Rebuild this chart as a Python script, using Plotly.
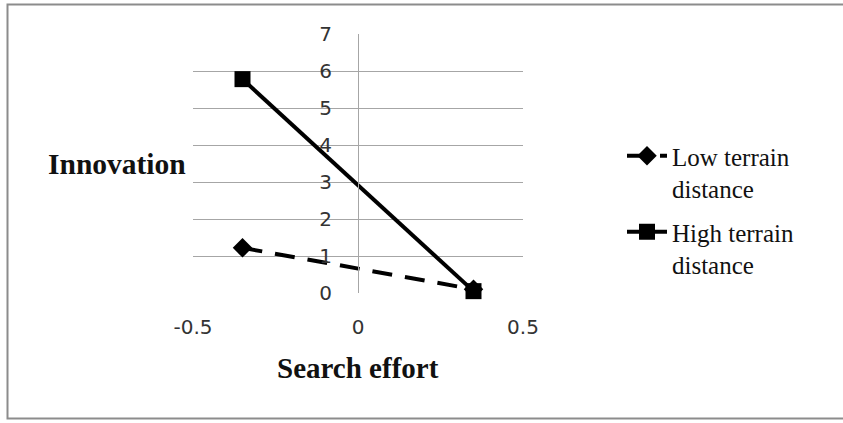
import plotly.graph_objects as go

# Data
x_vals = [-0.35, 0.35]
low_terrain = [1.22, 0.1]
high_terrain = [5.78, 0.05]
series_names = ["Low terrain<br>distance", "High terrain<br>distance"]
x_ticks = [-0.5, 0, 0.5]
x_ticklabels = ["-0.5", "0", "0.5"]
y_ticks = [0, 1, 2, 3, 4, 5, 6, 7]

W, H = 843, 423
L, R, T, B = 193, 320, 34, 130
PW, PH = W - L - R, H - T - B

def px(x):
    return (x - L) / PW

def py(y):
    return (H - B - y) / PH

fig = go.Figure()
fig.add_trace(go.Scatter(
    x=x_vals, y=low_terrain, name=series_names[0], mode="lines+markers",
    legendgroup="low",
    line=dict(color="black", width=4, dash="20px,13px"),
    marker=dict(symbol="diamond", size=15, color="black"),
    cliponaxis=False,
))
fig.add_trace(go.Scatter(
    x=x_vals, y=high_terrain, name=series_names[1], mode="lines+markers",
    legendgroup="high",
    line=dict(color="black", width=4),
    marker=dict(symbol="square", size=16, color="black"),
    cliponaxis=False,
))

fig.update_layout(
    width=W, height=H,
    margin=dict(l=L, r=R, t=T, b=B, pad=0),
    paper_bgcolor="white", plot_bgcolor="white",
    showlegend=True,
    legend=dict(
        x=px(622), y=py(133), xanchor="left", yanchor="top",
        font=dict(family="Liberation Serif", size=25, color="#111"),
        valign="top", bgcolor="rgba(0,0,0,0)", tracegroupgap=8,
        itemwidth=40,
    ),
    xaxis=dict(
        range=[-0.5, 0.5], tickvals=x_ticks, ticktext=x_ticklabels,
        showgrid=False, zeroline=False, showline=False, ticks="",
        ticklabelstandoff=20,
        tickfont=dict(family="DejaVu Sans", size=20, color="#333"),
    ),
    yaxis=dict(
        range=[0, 7], tickvals=y_ticks,
        anchor="free", position=0.5,
        showgrid=True, gridcolor="#a6a6a6", gridwidth=1,
        zeroline=False, showline=True, linecolor="#a6a6a6", linewidth=1,
        ticks="", ticklabelstandoff=22,
        tickfont=dict(family="DejaVu Sans", size=20, color="#333"),
    ),
    annotations=[
        dict(text="<b>Innovation</b>", xref="paper", yref="paper",
             x=px(46), y=py(164), xanchor="left", yanchor="middle",
             showarrow=False,
             font=dict(family="Liberation Serif", size=29.5, color="#111")),
        dict(text="<b>Search effort</b>", xref="paper", yref="paper",
             x=px(358), y=py(368), xanchor="center", yanchor="middle",
             showarrow=False,
             font=dict(family="Liberation Serif", size=29, color="#111")),
    ],
    shapes=[
        dict(type="rect", xref="paper", yref="paper",
             x0=px(7.5), x1=px(860), y0=py(418.5), y1=py(4.5),
             line=dict(color="#8c8c8c", width=2), layer="below"),
    ],
)

fig.write_html("out.html", config={"displayModeBar": False},
               post_script="document.body.style.margin='0';")
